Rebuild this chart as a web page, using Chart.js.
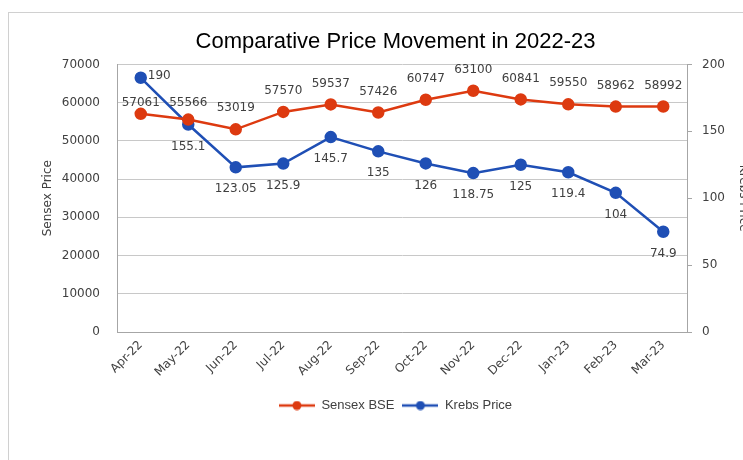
<!DOCTYPE html>
<html>
<head>
<meta charset="utf-8">
<script src="https://cdn.jsdelivr.net/npm/chart.js@4/dist/chart.umd.min.js"></script>
<style>
  html, body { margin: 0; padding: 0; background: #fff; overflow: hidden; }
  #frame {
    position: absolute; left: 8px; top: 12px;
    width: 745px; height: 480px;
    border: 1px solid #d0d0d0;
  }
</style>
</head>
<body>
<div id="frame"><canvas id="myChart" width="745" height="480"></canvas></div>
<script>
const months = ["Apr-22", "May-22", "Jun-22", "Jul-22", "Aug-22", "Sep-22", "Oct-22", "Nov-22", "Dec-22", "Jan-23", "Feb-23", "Mar-23"];
const sensexValues = [57061, 55566, 53019, 57570, 59537, 57426, 60747, 63100, 60841, 59550, 58962, 58992];
const krebsValues = [190, 155.1, 123.05, 125.9, 145.7, 135, 126, 118.75, 125, 119.4, 104, 74.9];
const sensexTicks = [0, 10000, 20000, 30000, 40000, 50000, 60000, 70000];
const krebsTicks = [0, 50, 100, 150, 200];

const red = '#DD3A10';
const blue = '#1F4FB5';
const narrow = '"Liberation Sans Narrow", "Arial Narrow", sans-serif';
const dejavu = '"DejaVu Sans", Verdana, sans-serif';

// legend marker: line with a dot in the middle
function legendMarker(color) {
    const c = document.createElement('canvas');
    c.width = 36; c.height = 10;
    const g = c.getContext('2d');
    g.strokeStyle = color; g.lineWidth = 2.5;
    g.beginPath(); g.moveTo(0, 5); g.lineTo(36, 5); g.stroke();
    g.fillStyle = color;
    g.beginPath(); g.arc(18, 5, 4.5, 0, Math.PI * 2); g.fill();
    return c;
}

// value labels (Excel style)
const valueLabels = {
    id: 'valueLabels',
    afterDatasetsDraw(chart) {
        const ctx = chart.ctx;
        ctx.save();
        ctx.font = '12px ' + dejavu;
        ctx.fillStyle = '#404040';
        ctx.textBaseline = 'middle';
        chart.data.datasets.forEach((ds, di) => {
            const meta = chart.getDatasetMeta(di);
            meta.data.forEach((pt, i) => {
                const v = ds.data[i];
                let dx = 0, dy = ds.labelOffset, align = 'center';
                if (ds.labelShift && ds.labelShift[i] !== undefined) {
                    [dx, dy, align] = ds.labelShift[i];
                }
                ctx.textAlign = align;
                ctx.fillText(String(v), pt.x + dx, pt.y + dy);
            });
        });
        ctx.restore();
    }
};

const ctx = document.getElementById('myChart').getContext('2d');
new Chart(ctx, {
    type: 'line',
    data: {
        labels: months,
        datasets: [{
            label: 'Sensex BSE',
            data: sensexValues,
            yAxisID: 'y',
            borderColor: red,
            backgroundColor: red,
            pointBackgroundColor: red,
            pointBorderColor: red,
            borderWidth: 2.5,
            pointRadius: 5,
            tension: 0,
            labelOffset: -21,
            labelShift: { 0: [0, -11, 'center'], 1: [0, -17, 'center'] },
            marker: legendMarker(red)
        }, {
            label: 'Krebs Price',
            data: krebsValues,
            yAxisID: 'y1',
            borderColor: blue,
            backgroundColor: blue,
            pointBackgroundColor: blue,
            pointBorderColor: blue,
            borderWidth: 2.5,
            pointRadius: 5,
            tension: 0,
            labelOffset: 22,
            labelShift: { 0: [7, -2, 'left'] },
            marker: legendMarker(blue)
        }]
    },
    options: {
        responsive: false,
        animation: false,
        layout: { padding: { top: 0, left: 28, right: 0, bottom: 71 } },
        scales: {
            x: {
                offset: true,
                grid: { display: false, drawTicks: false },
                border: { display: true, color: '#A6A6A6', width: 1 },
                ticks: {
                    minRotation: 45, maxRotation: 45, padding: 6,
                    color: '#404040', font: { family: dejavu, size: 12 }
                },
                afterFit(scale) { scale.height = 59; }
            },
            y: {
                position: 'left',
                min: 0, max: 70000,
                afterBuildTicks(scale) { scale.ticks = sensexTicks.map(v => ({ value: v })); },
                grid: { color: '#C8C8C8', drawTicks: false },
                border: { display: true, color: '#A6A6A6' },
                ticks: {
                    padding: 17, color: '#404040', font: { family: dejavu, size: 12 },
                    callback: v => String(v)
                },
                title: {
                    display: true, text: 'Sensex Price', color: '#404040',
                    font: { family: dejavu, size: 12 }, padding: { top: 4, bottom: 4 }
                },
                afterFit(scale) { scale.width = 80; }
            },
            y1: {
                position: 'right',
                min: 0, max: 200,
                afterBuildTicks(scale) { scale.ticks = krebsTicks.map(v => ({ value: v })); },
                grid: { drawOnChartArea: false, drawTicks: true, tickLength: 5, color: '#A6A6A6' },
                border: { display: true, color: '#A6A6A6' },
                ticks: {
                    padding: 10, color: '#404040', font: { family: dejavu, size: 12 },
                    callback: v => String(v)
                },
                title: {
                    display: true, text: 'Krebs Price', color: '#404040',
                    font: { family: dejavu, size: 12 }, padding: { top: 4, bottom: 4 }
                },
                afterFit(scale) { scale.width = 67; }
            }
        },
        plugins: {
            title: {
                display: true,
                text: 'Comparative Price Movement in 2022-23',
                color: '#000',
                font: { family: narrow, size: 22, weight: 'normal' },
                padding: { top: 16, bottom: 9 }
            },
            legend: {
                display: true,
                position: 'bottom',
                labels: {
                    usePointStyle: true,
                    pointStyleWidth: 36,
                    padding: 8,
                    color: '#404040',
                    font: { family: narrow, size: 13 },
                    generateLabels(chart) {
                        return chart.data.datasets.map((ds, i) => ({
                            text: ds.label,
                            pointStyle: ds.marker,
                            fillStyle: ds.borderColor,
                            strokeStyle: ds.borderColor,
                            fontColor: '#404040',
                            lineWidth: 0,
                            hidden: false,
                            datasetIndex: i
                        }));
                    }
                }
            },
            tooltip: { enabled: false }
        }
    },
    plugins: [valueLabels]
});
</script>
</body>
</html>
